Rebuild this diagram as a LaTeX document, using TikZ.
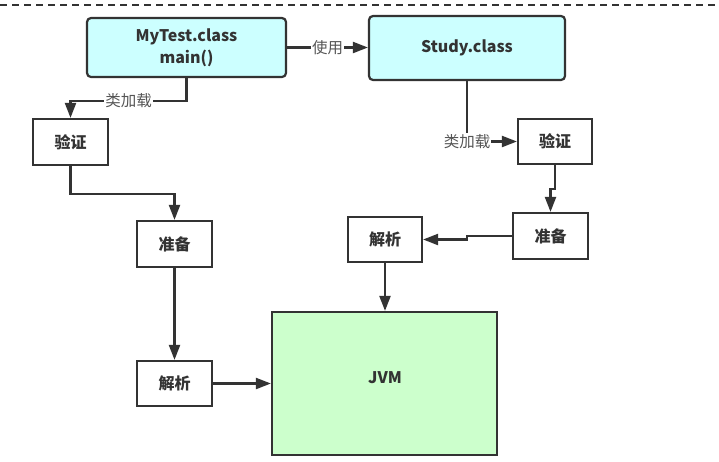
\documentclass[tikz,border=0pt]{standalone}
\usepackage{fontspec}
\setmainfont{Noto Sans CJK SC}
\usetikzlibrary{arrows.meta}
\definecolor{edge}{HTML}{333333}
\definecolor{cyanfill}{HTML}{CCFFFF}
\definecolor{greenfill}{HTML}{CCFFCC}
\definecolor{lblgray}{HTML}{555555}
\tikzset{
  box/.style={draw=edge, line width=2.2pt, fill=white, inner sep=0pt,
    font=\fontsize{16}{22}\selectfont\bfseries, text=edge, align=center},
  classbox/.style={box, fill=cyanfill, rounded corners=4pt},
  jvmbox/.style={box, fill=greenfill},
  conn/.style={draw=edge, line width=2.2pt, -{Triangle[length=15pt,width=11pt]}},
  lbl/.style={fill=white, inner sep=1pt, text=lblgray, font=\fontsize{15.5}{18}\selectfont}
}
\begin{document}
\begin{tikzpicture}[x=1pt,y=-1pt]
\useasboundingbox (0,0) rectangle (719,461);
\draw[edge, line width=1.6pt, dash pattern=on 7pt off 5pt] (0,5) -- (719,5);

\node[classbox, minimum width=199pt, minimum height=59pt] (mytest) at (186.5,47.5) {MyTest.class\\main()};
\node[classbox, minimum width=196pt, minimum height=64pt] (study) at (467,48) {Study.class};
\node[box, minimum width=75pt, minimum height=46pt] (yz1) at (70.5,142) {验证};
\node[box, minimum width=75pt, minimum height=46pt] (zb1) at (174.5,244) {准备};
\node[box, minimum width=75pt, minimum height=45pt] (jx1) at (174.5,383.5) {解析};
\node[jvmbox, minimum width=225pt, minimum height=143pt] (jvm) at (384.5,383.5) {};
\node[font=\fontsize{16}{22}\selectfont\bfseries, text=edge] (jvmtext) at (385,378) {JVM};
\node[box, minimum width=74pt, minimum height=45pt] (yz2) at (555,141.5) {验证};
\node[box, minimum width=75pt, minimum height=46pt] (zb2) at (550.5,236) {准备};
\node[box, minimum width=74pt, minimum height=45pt] (jx2) at (385,239.5) {解析};

\draw[conn] (mytest.east) -- node[lbl]{使用} (mytest.east -| study.west);
\draw[conn] (mytest.south) -- ++(0,23) -| node[lbl,pos=0.25]{类加载} (yz1.north);
\draw[conn] (yz1.south) -- ++(0,28) -| (zb1.north);
\draw[conn] (zb1.south) -- (jx1.north);
\draw[conn] (jx1.east) -- (jx1.east -| jvm.west);
\draw[conn] (study.south) |- node[lbl,pos=0.5]{类加载} (yz2.west);
\draw[conn] (yz2.south) -- ++(0,24) -| (zb2.north);
\draw[conn] (zb2.west) -- ++(-45,0) |- (jx2.east);
\draw[conn] (jx2.south) -- (jx2.south |- jvm.north);
\end{tikzpicture}
\end{document}
